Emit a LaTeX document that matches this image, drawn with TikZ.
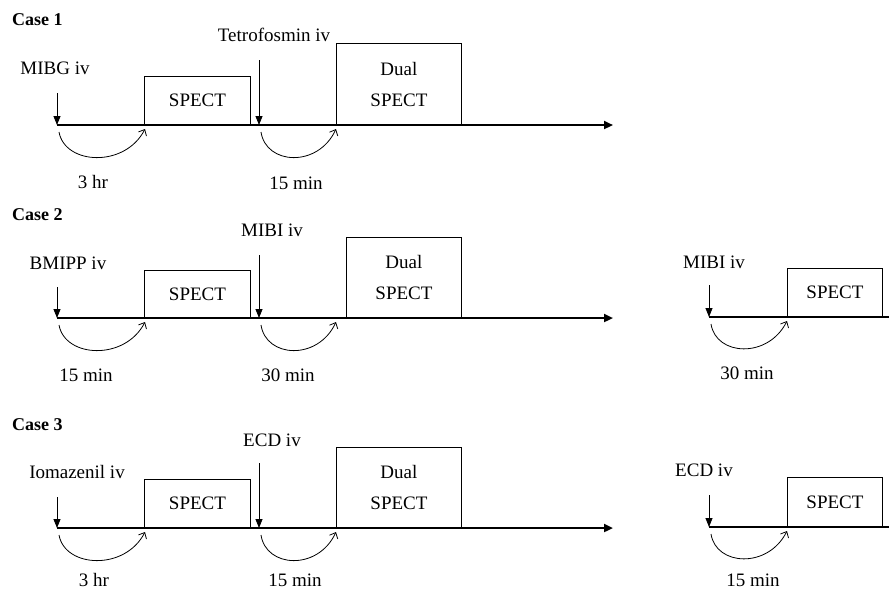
\documentclass[tikz,border=0pt]{standalone}
\usepackage{fontspec}
\setmainfont{Liberation Serif}
\usetikzlibrary{arrows.meta}
\begin{document}
\begin{tikzpicture}[x=1pt,y=-1pt,
  lbl/.style={font=\fontsize{19}{22}\selectfont, inner sep=0pt},
  casetitle/.style={font=\fontsize{18}{22}\selectfont\bfseries, inner sep=0pt, anchor=west},
  box/.style={draw, line width=0.9pt, inner sep=0pt, anchor=south west, font=\fontsize{19}{31}\selectfont, align=center},
  timeline/.style={line width=2.2pt, -{Triangle[length=9pt,width=8pt]}},
  plainline/.style={line width=2.2pt},
  inj/.style={line width=0.8pt, -{Triangle[length=9pt,width=7pt]}},
  delay/.style={line width=0.8pt, -{Straight Barb[length=5pt,width=9pt]}}
]
\useasboundingbox (0,0) rectangle (889,590);

% ---------------- Case 1 ----------------
\node[casetitle] (c1) at (12,20) {Case 1};
\coordinate (t1s) at (57,125);
\coordinate (t1m) at (259,125);
\coordinate (t1e) at (613,125);
\draw[timeline] (t1s) -- (t1e);
\node[box, minimum width=106pt, minimum height=48pt] (s1) at (144,125) {SPECT};
\node[box, minimum width=125pt, minimum height=81pt] (d1) at (336,125) {Dual\\SPECT};
\node[lbl] (mibg) at (55,68) {MIBG iv};
\node[lbl] (tetro) at (274,35) {Tetrofosmin iv};
\coordinate (a1a) at (57,93);
\coordinate (a1b) at (259,60);
\draw[inj] (a1a) -- (t1s);
\draw[inj] (a1b) -- (t1m);
\coordinate (c1a0) at (59,132); \coordinate (c1a1) at (145,129);
\draw[delay] (c1a0) .. controls (65,165) and (125,168) .. (c1a1);
\coordinate (c1b0) at (261,132); \coordinate (c1b1) at (336,129);
\draw[delay] (c1b0) .. controls (266,165) and (318,168) .. (c1b1);
\node[lbl] (h1a) at (93,182) {3 hr};
\node[lbl] (h1b) at (296,183) {15 min};

% ---------------- Case 2 ----------------
\node[casetitle] (c2) at (12,215) {Case 2};
\coordinate (t2s) at (57,318);
\coordinate (t2m) at (259,318);
\coordinate (t2e) at (613,318);
\draw[timeline] (t2s) -- (t2e);
\node[box, minimum width=106pt, minimum height=47pt] (s2) at (144,318) {SPECT};
\node[box, minimum width=115pt, minimum height=80pt] (d2) at (346,318) {Dual\\SPECT};
\node[lbl] (bmipp) at (68,263) {BMIPP iv};
\node[lbl] (mibi) at (272,230) {MIBI iv};
\coordinate (a2a) at (57,287);
\coordinate (a2b) at (259,255);
\draw[inj] (a2a) -- (t2s);
\draw[inj] (a2b) -- (t2m);
\coordinate (c2a0) at (59,325); \coordinate (c2a1) at (145,322);
\draw[delay] (c2a0) .. controls (65,358) and (125,361) .. (c2a1);
\coordinate (c2b0) at (261,325); \coordinate (c2b1) at (336,322);
\draw[delay] (c2b0) .. controls (266,358) and (318,361) .. (c2b1);
\node[lbl] (h2a) at (86,375) {15 min};
\node[lbl] (h2b) at (288,375) {30 min};
% right part
\coordinate (r2s) at (709,317);
\coordinate (r2e) at (889,317);
\draw[plainline] (r2s) -- (r2e);
\node[box, minimum width=95pt, minimum height=48pt] (rs2) at (787,317) {SPECT};
\node[lbl] (rmibi) at (714,262) {MIBI iv};
\coordinate (ra2) at (709,285);
\draw[inj] (ra2) -- (r2s);
\coordinate (rc20) at (711,324); \coordinate (rc21) at (787,321);
\draw[delay] (rc20) .. controls (716,356) and (768,359) .. (rc21);
\node[lbl] (rh2) at (747,373) {30 min};

% ---------------- Case 3 ----------------
\node[casetitle] (c3) at (12,425) {Case 3};
\coordinate (t3s) at (57,528);
\coordinate (t3m) at (259,528);
\coordinate (t3e) at (613,528);
\draw[timeline] (t3s) -- (t3e);
\node[box, minimum width=106pt, minimum height=48pt] (s3) at (144,528) {SPECT};
\node[box, minimum width=125pt, minimum height=80pt] (d3) at (336,528) {Dual\\SPECT};
\node[lbl] (ioma) at (77,472) {Iomazenil iv};
\node[lbl] (ecd) at (272,440) {ECD iv};
\coordinate (a3a) at (57,497);
\coordinate (a3b) at (259,463);
\draw[inj] (a3a) -- (t3s);
\draw[inj] (a3b) -- (t3m);
\coordinate (c3a0) at (59,535); \coordinate (c3a1) at (145,532);
\draw[delay] (c3a0) .. controls (65,568) and (125,571) .. (c3a1);
\coordinate (c3b0) at (261,535); \coordinate (c3b1) at (336,532);
\draw[delay] (c3b0) .. controls (266,568) and (318,571) .. (c3b1);
\node[lbl] (h3a) at (94,580) {3 hr};
\node[lbl] (h3b) at (295,580) {15 min};
% right part
\coordinate (r3s) at (709,527);
\coordinate (r3e) at (889,527);
\draw[plainline] (r3s) -- (r3e);
\node[box, minimum width=95pt, minimum height=49pt] (rs3) at (787,527) {SPECT};
\node[lbl] (recd) at (704,470) {ECD iv};
\coordinate (ra3) at (709,495);
\draw[inj] (ra3) -- (r3s);
\coordinate (rc30) at (711,534); \coordinate (rc31) at (787,531);
\draw[delay] (rc30) .. controls (716,566) and (768,569) .. (rc31);
\node[lbl] (rh3) at (753,580) {15 min};
\end{tikzpicture}
\end{document}
